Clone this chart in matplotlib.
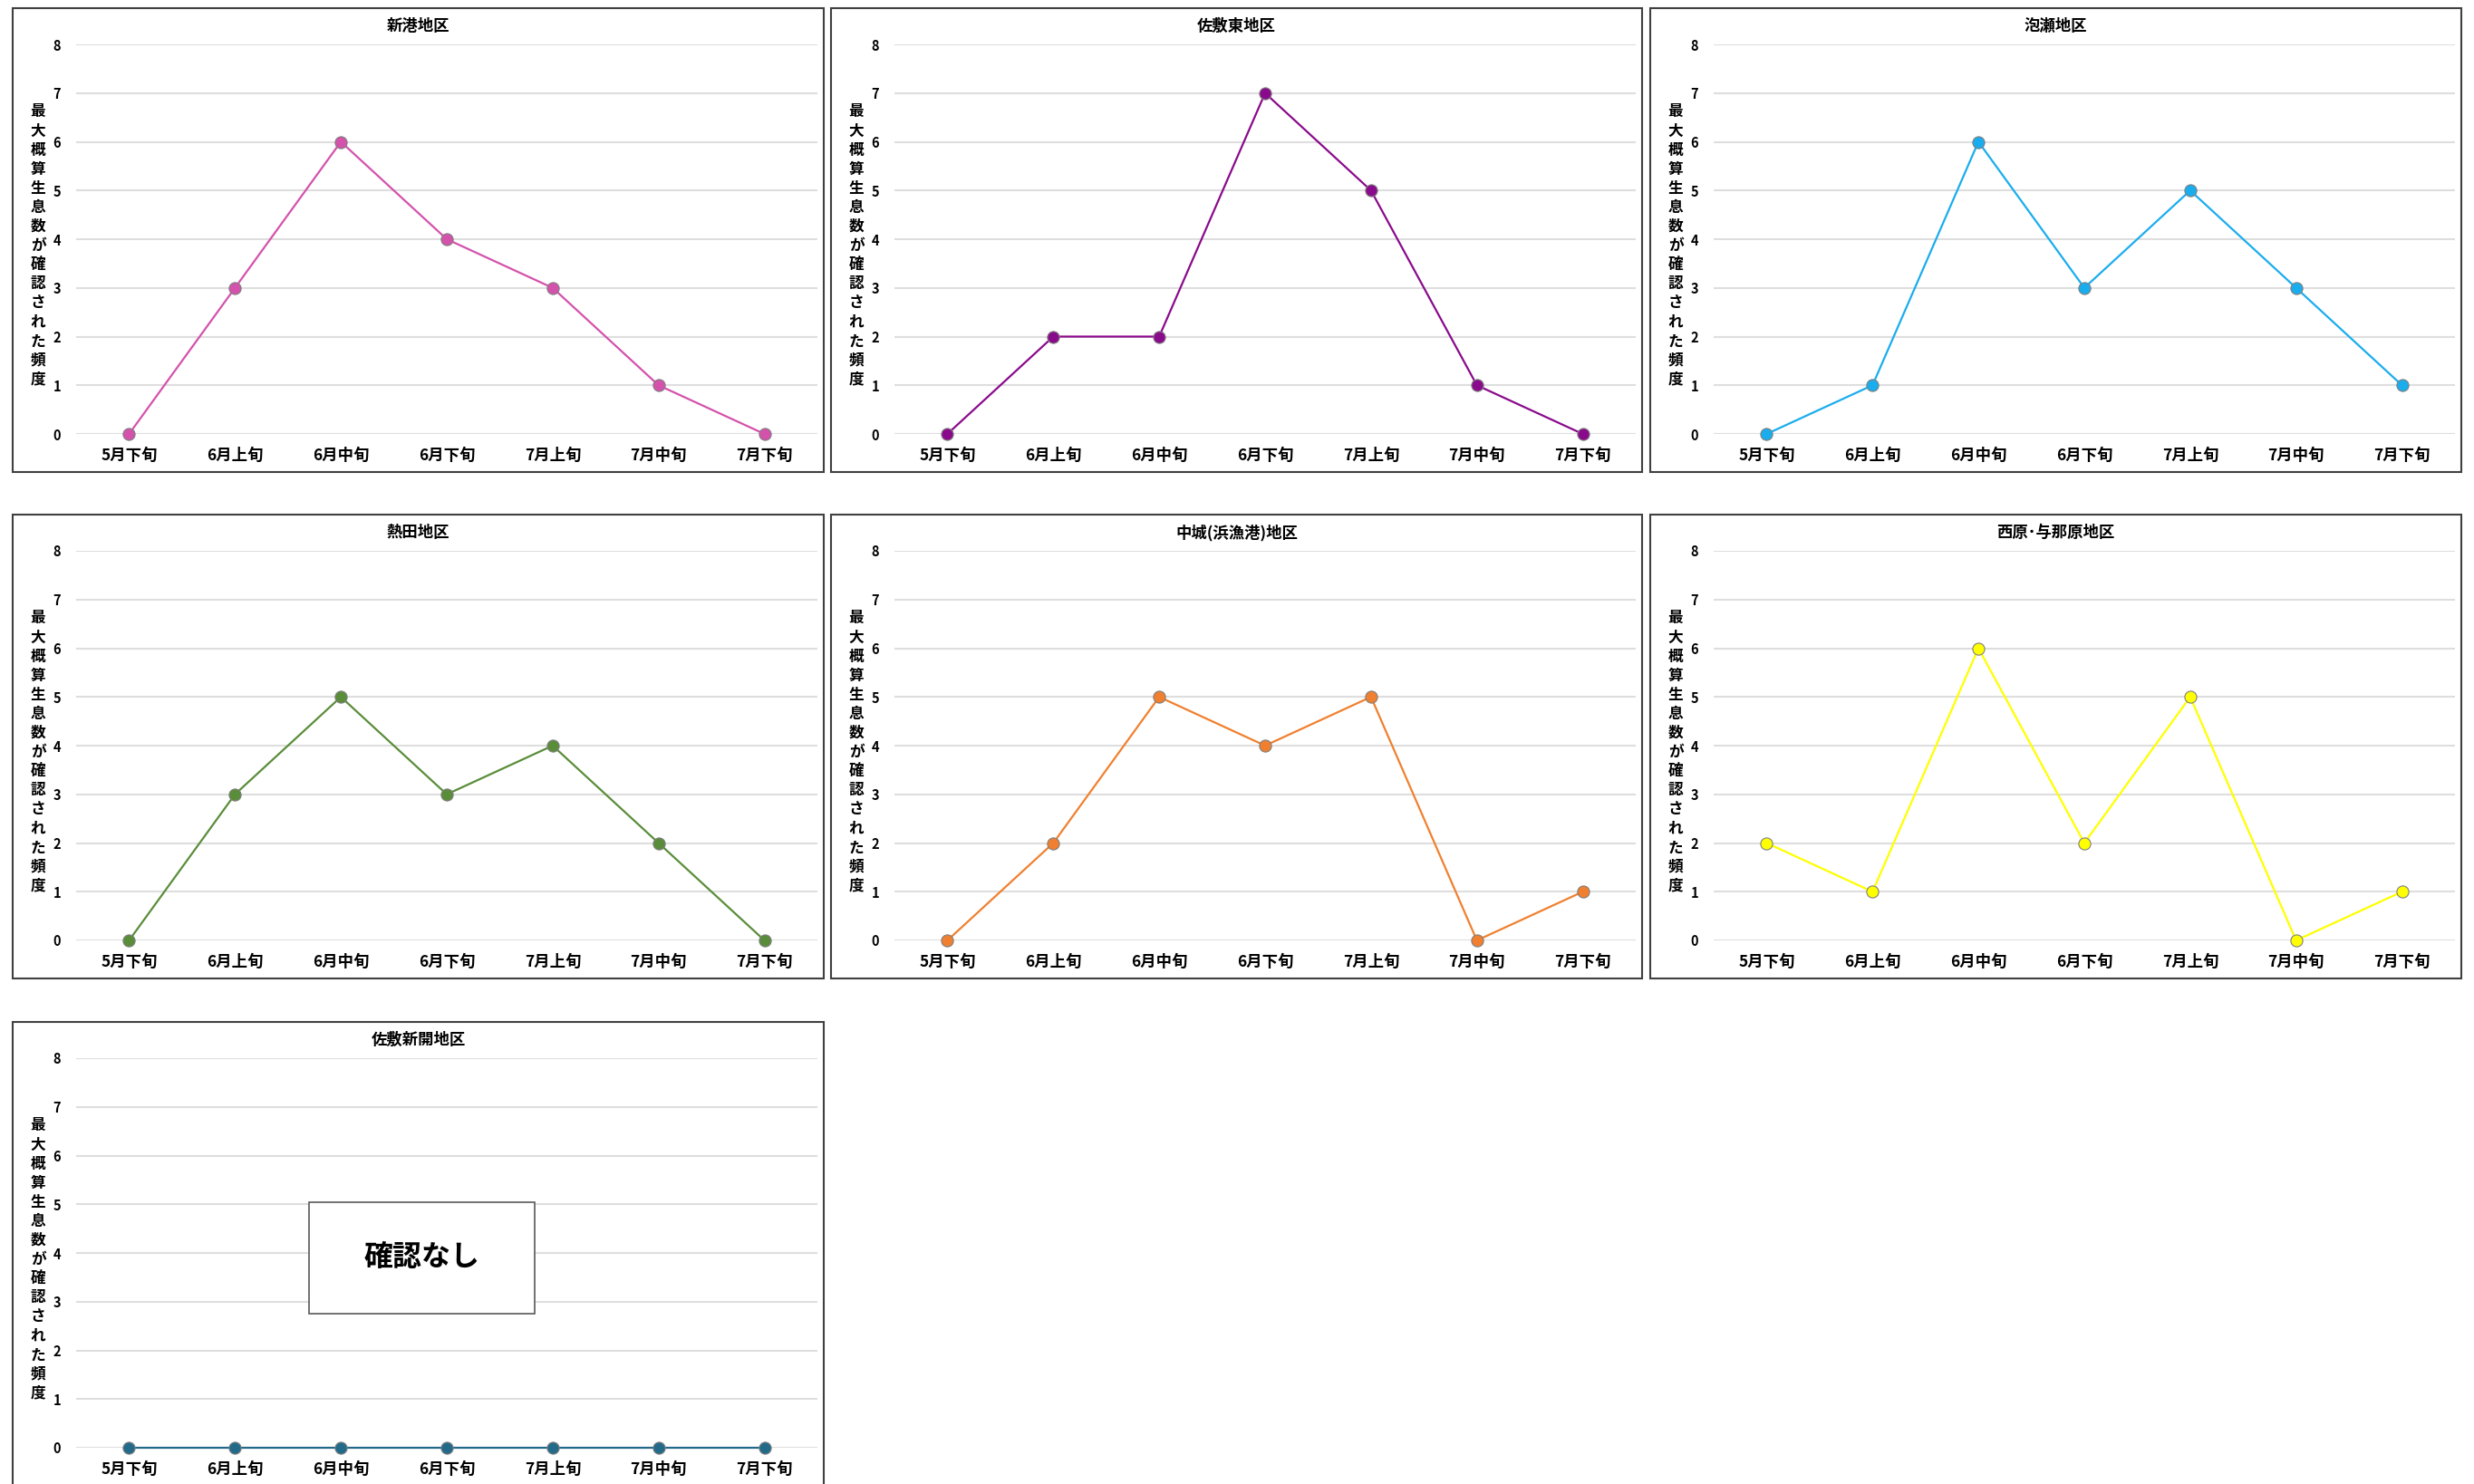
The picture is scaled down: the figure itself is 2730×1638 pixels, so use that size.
import matplotlib
matplotlib.use('Agg')
import matplotlib.pyplot as plt
from matplotlib.patches import Rectangle

plt.rcParams['font.family'] = ['Noto Sans CJK JP', 'DejaVu Sans']

# survey periods (x axis)
periods = ['5月下旬', '6月上旬', '6月中旬', '6月下旬', '7月上旬', '7月中旬', '7月下旬']

# frequency per district
shinko = [0, 3, 6, 4, 3, 1, 0]
sashiki_higashi = [0, 2, 2, 7, 5, 1, 0]
awase = [0, 1, 6, 3, 5, 3, 1]
atta = [0, 3, 5, 3, 4, 2, 0]
nakagusuku = [0, 2, 5, 4, 5, 0, 1]
nishihara = [2, 1, 6, 2, 5, 0, 1]
sashiki_shinkai = [0, 0, 0, 0, 0, 0, 0]

districts = ['新港地区', '佐敷東地区', '泡瀬地区', '熱田地区',
             '中城(浜漁港)地区', '西原･与那原地区', '佐敷新開地区']
series = [shinko, sashiki_higashi, awase, atta, nakagusuku, nishihara, sashiki_shinkai]
colors = ['#D452AC', '#8A0A8C', '#1AADEE', '#5A8D3A', '#F0802F', '#FFFF00', '#236A8A']

ylabel = '最大概算生息数が確認された頻度'

W, H = 2730, 1638
fig = plt.figure(figsize=(W / 100, H / 100), dpi=100)

col_left = [14, 917, 1821]
row_top = [9, 568, 1128]
panel_w, panel_h = 895, 512


def fx(px):
    return px / W


def fy(py):
    return 1 - py / H


for i, (name, vals, c) in enumerate(zip(districts, series, colors)):
    left = col_left[i % 3]
    top = row_top[i // 3]

    # panel frame
    fig.patches.append(Rectangle((fx(left), fy(top + panel_h)), panel_w / W, panel_h / H,
                                 transform=fig.transFigure, fill=False,
                                 edgecolor='#404040', linewidth=1.5))

    ax = fig.add_axes([fx(left + 70), fy(top + 470), 818 / W, 430 / H])
    ax.plot(range(len(periods)), vals, color=c, linewidth=1.6, marker='o',
            markersize=9.5, markerfacecolor=c, markeredgecolor='#7F7F7F',
            markeredgewidth=0.8, zorder=3, clip_on=False)
    ax.set_xlim(-0.5, 6.5)
    ax.set_ylim(0, 8)
    ax.set_yticks(range(0, 9))
    ax.set_xticks(range(len(periods)))
    ax.set_xticklabels(periods, fontsize=12.5, fontweight='bold')
    ax.tick_params(axis='y', labelsize=10.5, length=0, pad=12)
    ax.tick_params(axis='x', length=0, pad=11)
    for lab in ax.get_yticklabels():
        lab.set_fontweight('bold')
    ax.grid(axis='y', color='#DEDEDE', linewidth=1.5)
    ax.set_axisbelow(True)
    for s in ax.spines.values():
        s.set_visible(False)

    fig.text(fx(left + panel_w / 2), fy(top + 20), name, ha='center', va='center',
             fontsize=12.5, fontweight='bold')
    fig.text(fx(left + 28), fy(top + 262), '\n'.join(ylabel), ha='center', va='center',
             fontsize=12, fontweight='bold', linespacing=1.22)

    if not any(vals):
        ax.add_patch(Rectangle((1.70, 2.75), 2.13, 2.3, facecolor='white',
                               edgecolor='#595959', linewidth=1.2, zorder=4))
        ax.text(2.765, 3.9, '確認なし', ha='center', va='center', fontsize=23,
                fontweight='bold', zorder=5)

fig.savefig('out.png', dpi=100, facecolor='white')
